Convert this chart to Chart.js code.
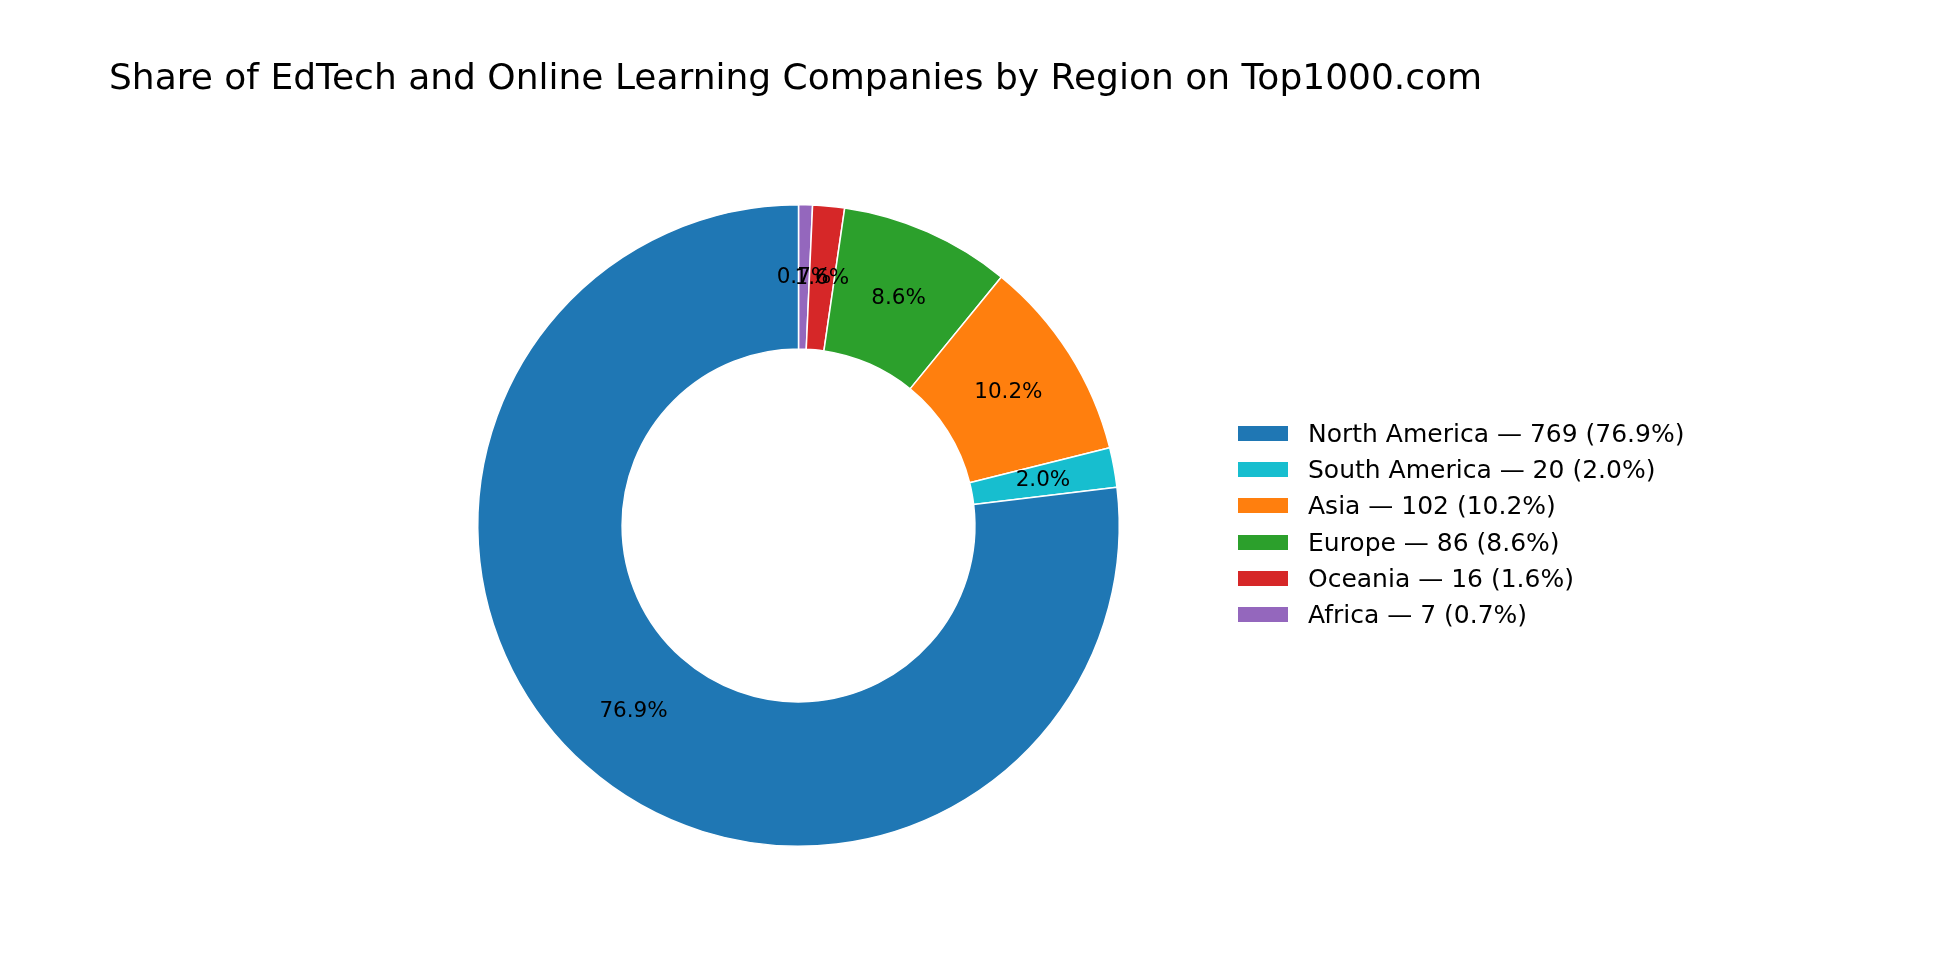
<!DOCTYPE html>
<html>
<head>
<meta charset="utf-8">
<script src="https://cdn.jsdelivr.net/npm/chart.js@4.4.1/dist/chart.umd.min.js"></script>
<style>
  html, body { margin: 0; padding: 0; background: #fff; }
  body { width: 1940px; height: 960px; position: relative; overflow: hidden; font-family: "DejaVu Sans", sans-serif; }
  #wrap { position: absolute; left: 0; top: 0; width: 1940px; height: 960px; }
  #title { position: absolute; left: 109px; top: 53px; font-size: 36px; line-height: 48px; color: #000; white-space: nowrap; }
  #legend { position: absolute; left: 1238px; top: 415px; }
  .row { height: 36.3px; display: flex; align-items: center; font-size: 25px; color: #000; white-space: nowrap; }
  .sw { width: 50px; height: 15px; margin-right: 20px; }
</style>
</head>
<body>
<div id="wrap"><canvas id="donut" width="1940" height="960"></canvas></div>
<div id="title">Share of EdTech and Online Learning Companies by Region on Top1000.com</div>
<div id="legend"></div>
<script>
// data, in legend order
const regions = ['North America', 'South America', 'Asia', 'Europe', 'Oceania', 'Africa'];
const counts = [769, 20, 102, 86, 16, 7];
const colors = ['#1f77b4', '#17becf', '#ff7f0e', '#2ca02c', '#d62728', '#9467bd'];

const total = counts.reduce((a, b) => a + b, 0);
const pct = v => (v / total * 100).toFixed(1) + '%';

// legend
const legend = document.getElementById('legend');
regions.forEach((r, i) => {
  const row = document.createElement('div');
  row.className = 'row';
  row.innerHTML = '<div class="sw" style="background:' + colors[i] + '"></div>' +
    r + ' \u2014 ' + counts[i] + ' (' + pct(counts[i]) + ')';
  legend.appendChild(row);
});

// the reference runs counter-clockwise from the top, Chart.js runs clockwise,
// so feed the slices in reverse
const order = regions.map((_, i) => regions.length - 1 - i);

const pctLabels = {
  id: 'pctLabels',
  afterDatasetsDraw(chart) {
    const ctx = chart.ctx;
    const meta = chart.getDatasetMeta(0);
    const data = chart.data.datasets[0].data;
    ctx.save();
    ctx.font = '21.5px "DejaVu Sans"';
    ctx.fillStyle = '#000';
    ctx.textAlign = 'center';
    ctx.textBaseline = 'middle';
    // draw in original order so the last region ends up on top
    for (let k = meta.data.length - 1; k >= 0; k--) {
      const p = meta.data[k].getCenterPoint();
      ctx.fillText(pct(data[k]), p.x, p.y);
    }
    ctx.restore();
  }
};

const ctx = document.getElementById('donut').getContext('2d');
new Chart(ctx, {
  type: 'doughnut',
  data: {
    labels: order.map(i => regions[i]),
    datasets: [{
      data: order.map(i => counts[i]),
      backgroundColor: order.map(i => colors[i]),
      borderColor: '#ffffff',
      borderWidth: 1.5
    }]
  },
  options: {
    responsive: false,
    devicePixelRatio: 1,
    animation: false,
    cutout: '55%',
    layout: { padding: { left: 477, top: 204, right: 820, bottom: 113 } },
    events: [],
    plugins: {
      legend: { display: false },
      tooltip: { enabled: false }
    }
  },
  plugins: [pctLabels]
});
</script>
</body>
</html>
